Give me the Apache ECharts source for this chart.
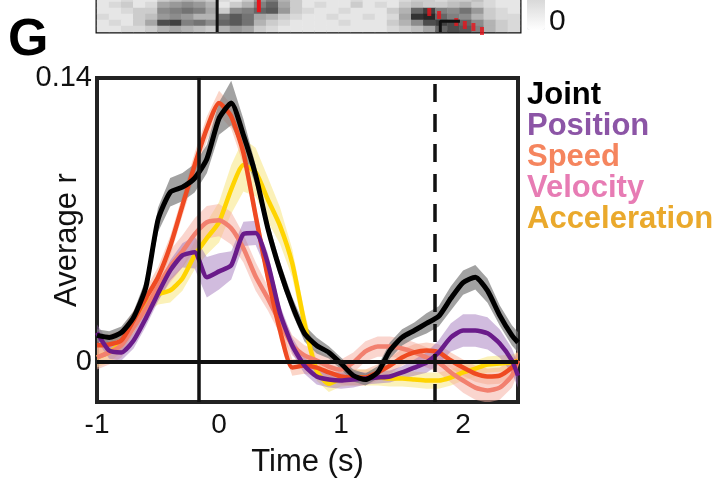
<!DOCTYPE html>
<html>
<head>
<meta charset="utf-8">
<script src="https://cdn.jsdelivr.net/npm/echarts@6/dist/echarts.min.js"></script>
<style>
  html, body { margin: 0; padding: 0; background: #fff; }
  #chart { width: 721px; height: 481px; }
</style>
</head>
<body>
<div id="chart"></div>
<script>
// time axis (s)
const times = [-1.0, -0.9, -0.8, -0.7, -0.6, -0.5, -0.4, -0.3, -0.2, -0.1, 0.0, 0.1, 0.2, 0.3, 0.4, 0.5, 0.6, 0.7,
  0.8, 0.9, 1.0, 1.1, 1.2, 1.3, 1.4, 1.5, 1.6, 1.7, 1.8, 1.9, 2.0, 2.1, 2.2, 2.3, 2.4, 2.45];

// average r per model
const joint = [0.0129, 0.0119, 0.0143, 0.0218, 0.0366, 0.070, 0.0836, 0.0861, 0.0905, 0.100, 0.120, 0.1277, 0.1118, 0.092,
  0.0658, 0.045, 0.0277, 0.0139, 0.0079, 0.0045, -0.001, -0.0069, -0.0089, -0.0054, 0.0054, 0.0119, 0.0153, 0.0188,
  0.0223, 0.0312, 0.039, 0.0416, 0.035, 0.0228, 0.0129, 0.0094];
const position = [0.0143, 0.0054, 0.0045, 0.0104, 0.0213, 0.0336, 0.045, 0.0524, 0.0539, 0.0416, 0.0445, 0.0475, 0.063,
  0.0635, 0.0485, 0.0238, 0.0079, -0.002, -0.0074, -0.0089, -0.0094, -0.0089, -0.0084, -0.0079, -0.0074, -0.0054,
  -0.003, -0.0005, 0.0045, 0.0119, 0.0153, 0.0153, 0.0139, 0.0089, 0.0005, -0.007];
const speed = [0.008, 0.0084, 0.0104, 0.0203, 0.0312, 0.0416, 0.057, 0.077, 0.097, 0.115, 0.1277, 0.121, 0.103, 0.072,
  0.0416, 0.0153, -0.003, -0.002, -0.003, -0.0054, -0.0074, -0.0079, -0.0079, -0.0054, -0.002, 0.002, 0.0045, 0.0054,
  0.0045, 0.0005, -0.003, -0.006, -0.0074, -0.007, -0.003, 0.0005];
const velocity = [0.002, 0.0045, 0.008, 0.0168, 0.0262, 0.0371, 0.047, 0.0544, 0.0628, 0.0688, 0.0698, 0.0658, 0.0559,
  0.042, 0.0312, 0.0193, 0.008, 0.003, 0.0005, -0.0025, -0.004, -0.0005, 0.005, 0.0074, 0.0074, 0.0064, 0.0045, 0.002,
  -0.0005, -0.0054, -0.0094, -0.0129, -0.0143, -0.0129, -0.007, 0.0005];
const acceleration = [0.002, 0.0045, 0.0094, 0.0188, 0.0287, 0.0332, 0.0351, 0.041, 0.0524, 0.0609, 0.0688, 0.085, 0.097,
  0.0935, 0.080, 0.067, 0.0485, 0.019, -0.0045, -0.011, -0.0084, -0.0079, -0.0079, -0.0079, -0.0084, -0.0084, -0.0089,
  -0.0094, -0.0094, -0.0079, -0.0054, -0.0035, -0.0015, -0.001, -0.0005, 0.0005];

// shaded error (half width)
const jointErr = [0.003, 0.003, 0.003, 0.003, 0.004, 0.006, 0.007, 0.007, 0.007, 0.007, 0.008, 0.011, 0.008, 0.005, 0.004,
  0.004, 0.004, 0.004, 0.004, 0.003, 0.003, 0.003, 0.003, 0.003, 0.004, 0.004, 0.004, 0.005, 0.005, 0.006, 0.006, 0.006,
  0.006, 0.005, 0.005, 0.005];
const positionErr = [0.004, 0.004, 0.004, 0.004, 0.004, 0.004, 0.005, 0.006, 0.008, 0.010, 0.009, 0.007, 0.006, 0.006,
  0.005, 0.004, 0.004, 0.004, 0.004, 0.004, 0.004, 0.004, 0.003, 0.003, 0.003, 0.003, 0.004, 0.005, 0.006, 0.007, 0.008,
  0.008, 0.008, 0.007, 0.006, 0.006];
const speedErr = [0.005, 0.005, 0.005, 0.005, 0.005, 0.005, 0.005, 0.005, 0.006, 0.006, 0.006, 0.006, 0.006, 0.005, 0.005,
  0.005, 0.004, 0.004, 0.004, 0.004, 0.004, 0.004, 0.004, 0.004, 0.004, 0.004, 0.004, 0.004, 0.004, 0.004, 0.004, 0.004,
  0.004, 0.004, 0.004, 0.004];
const velocityErr = [0.006, 0.006, 0.006, 0.006, 0.006, 0.007, 0.008, 0.008, 0.008, 0.008, 0.008, 0.008, 0.007, 0.007,
  0.006, 0.006, 0.005, 0.005, 0.005, 0.005, 0.005, 0.005, 0.005, 0.005, 0.005, 0.005, 0.005, 0.005, 0.005, 0.005, 0.006,
  0.006, 0.006, 0.006, 0.006, 0.006];
const accelerationErr = [0.005, 0.005, 0.005, 0.005, 0.005, 0.005, 0.006, 0.006, 0.007, 0.008, 0.010, 0.012, 0.013, 0.012,
  0.011, 0.009, 0.007, 0.006, 0.005, 0.004, 0.004, 0.004, 0.004, 0.004, 0.004, 0.004, 0.004, 0.004, 0.004, 0.004, 0.004,
  0.004, 0.004, 0.004, 0.004, 0.004];

// event markers (s)
const cueTime = -0.165;
const endTime = 1.77;

// raster strip above (gray level 0..1), rows top to bottom
const rasterRows = [
  [0.1, 0.1, 0.15, 0.1, 0.1, 0.2, 0.25, 0.3, 0.25, 0.2, 0.15, 0.1, 0.2, 0.4, 0.5, 0.3, 0.2, 0.1, 0.1, 0.1, 0.1, 0.15, 0.1, 0.1, 0.1, 0.15, 0.2, 0.2, 0.15, 0.2, 0.2, 0.25, 0.15, 0.1, 0.1],
  [0.1, 0.15, 0.2, 0.1, 0.15, 0.35, 0.4, 0.45, 0.4, 0.3, 0.1, 0.2, 0.3, 0.5, 0.6, 0.35, 0.2, 0.1, 0.15, 0.1, 0.1, 0.2, 0.1, 0.15, 0.1, 0.2, 0.25, 0.2, 0.2, 0.25, 0.3, 0.2, 0.15, 0.1, 0.1],
  [0.1, 0.1, 0.15, 0.2, 0.2, 0.45, 0.5, 0.55, 0.5, 0.35, 0.2, 0.45, 0.5, 0.6, 0.65, 0.4, 0.2, 0.15, 0.1, 0.1, 0.15, 0.1, 0.1, 0.1, 0.2, 0.3, 0.6, 0.75, 0.5, 0.45, 0.55, 0.4, 0.2, 0.15, 0.1],
  [0.15, 0.1, 0.1, 0.2, 0.25, 0.4, 0.45, 0.4, 0.3, 0.3, 0.55, 0.65, 0.55, 0.35, 0.3, 0.2, 0.15, 0.1, 0.1, 0.15, 0.1, 0.1, 0.15, 0.1, 0.15, 0.35, 0.8, 0.85, 0.6, 0.5, 0.45, 0.3, 0.2, 0.15, 0.15],
  [0.1, 0.15, 0.1, 0.2, 0.35, 0.7, 0.75, 0.5, 0.55, 0.45, 0.6, 0.65, 0.55, 0.3, 0.2, 0.15, 0.1, 0.1, 0.1, 0.1, 0.15, 0.1, 0.1, 0.1, 0.2, 0.3, 0.45, 0.7, 0.75, 0.7, 0.6, 0.45, 0.3, 0.2, 0.15],
  [0.1, 0.1, 0.15, 0.15, 0.2, 0.3, 0.35, 0.3, 0.25, 0.2, 0.3, 0.4, 0.35, 0.2, 0.15, 0.1, 0.1, 0.1, 0.1, 0.1, 0.1, 0.1, 0.1, 0.1, 0.15, 0.2, 0.25, 0.35, 0.6, 0.7, 0.65, 0.5, 0.3, 0.2, 0.15]
];
const onsetTimes = [1.71, 1.79, 1.93, 2.0, 2.07, 2.14];
const onsetRows = [2.67, 3.17, 4.33, 4.83, 5.17, 5.83];

const chart = echarts.init(document.getElementById("chart"));

const font = "Liberation Sans";
const cols = rasterRows[0].map((v, i) => String(i));
const heat = [];
rasterRows.forEach((row, r) => row.forEach((v, c) => heat.push([c, r, v])));

// shaded band drawn as one polygon through the axis scales
function band(mean, err, color, opacity) {
  return {
    type: "custom", silent: true, clip: true, z: 1,
    data: times.map((t, i) => [t, mean[i] - err[i], mean[i] + err[i]]),
    encode: { x: 0, y: [1, 2] },
    renderItem: function (params, api) {
      if (params.dataIndex !== 0) return;
      const upper = times.map((t, i) => api.coord([t, mean[i] + err[i]]));
      const lower = times.map((t, i) => api.coord([t, mean[i] - err[i]])).reverse();
      return {
        type: "polygon",
        shape: { points: upper.concat(lower) },
        style: { fill: color, opacity: opacity }
      };
    }
  };
}

function curve(name, mean, color, width, z) {
  return {
    name: name, type: "line", data: times.map((t, i) => [t, mean[i]]),
    symbol: "none", smooth: 0.2, z: z,
    lineStyle: { color: color, width: width }, itemStyle: { color: color }
  };
}

const option = {
  animation: false,
  grid: [
    { left: 97, right: 203, top: 78, bottom: 79, outerBoundsMode: "none", show: true, borderColor: "#222", borderWidth: 4 },
    { left: 97, right: 201, top: -4, height: 36, outerBoundsMode: "none", show: true, borderColor: "#111", borderWidth: 3 },
    { left: 97, right: 201, top: -4, height: 36, outerBoundsMode: "none" }
  ],
  xAxis: [
    {
      gridIndex: 0, type: "value", min: -1, max: 2.45, interval: 1,
      axisLine: { show: false }, axisTick: { show: false }, splitLine: { show: false },
      axisLabel: {
        color: "#111", fontFamily: font, fontSize: 28, margin: 9,
        formatter: v => (Number.isInteger(v) ? String(v) : "")
      },
      name: "Time (s)", nameLocation: "middle", nameGap: 45, nameMoveOverlap: false,
      nameTextStyle: { color: "#111", fontFamily: font, fontSize: 31 }
    },
    { gridIndex: 1, type: "category", data: cols, show: false },
    { gridIndex: 2, type: "value", min: -1, max: 2.45, show: false }
  ],
  yAxis: [
    {
      gridIndex: 0, type: "value", min: -0.02, max: 0.14, interval: 0.01,
      axisLine: { show: false }, axisTick: { show: false }, splitLine: { show: false },
      axisLabel: {
        color: "#111", fontFamily: font, fontSize: 29, margin: 5,
        formatter: v => (Math.abs(v) < 1e-9 ? "0" : Math.abs(v - 0.14) < 1e-9 ? "0.14" : "")
      },
      name: "Average r", nameLocation: "middle", nameGap: 14, nameMoveOverlap: false,
      nameTextStyle: { color: "#111", fontFamily: font, fontSize: 31 }
    },
    { gridIndex: 1, type: "category", data: rasterRows.map((r, i) => String(i)), inverse: true, show: false },
    { gridIndex: 2, type: "value", min: 0, max: 6, inverse: true, show: false }
  ],
  visualMap: {
    type: "continuous", min: 0, max: 1, seriesIndex: 0, calculable: false,
    inRange: { color: ["#ffffff", "#000000"] },
    orient: "vertical", left: 527, top: -170, itemWidth: 18, itemHeight: 200, padding: 0,
    text: null, showLabel: false
  },
  legend: {
    orient: "vertical", left: 517, top: 75, itemGap: 0, itemWidth: 0, itemHeight: 29.6,
    icon: "none", selectedMode: false,
    textStyle: { fontFamily: font, fontSize: 31, fontWeight: "bold", lineHeight: 29.6 },
    data: [
      { name: "Joint", textStyle: { color: "#000000" } },
      { name: "Position", textStyle: { color: "#8c55a6" } },
      { name: "Speed", textStyle: { color: "#f5855e" } },
      { name: "Velocity", textStyle: { color: "#e77cb4" } },
      { name: "Acceleration", textStyle: { color: "#eaa92c" } }
    ]
  },
  graphic: [
    { type: "text", left: 8, top: 15, style: { text: "G", font: "bold 52px Liberation Sans", fill: "#000" } },
    { type: "text", left: 549, top: 7, style: { text: "0", font: "30px Liberation Sans", fill: "#111" } }
  ],
  series: [
    { type: "heatmap", xAxisIndex: 1, yAxisIndex: 1, data: heat, silent: true },
    {
      type: "line", xAxisIndex: 2, yAxisIndex: 2, data: [[-0.02, 0], [-0.02, 6]], symbol: "none",
      lineStyle: { color: "#111", width: 3 }, silent: true
    },
    {
      type: "line", xAxisIndex: 2, yAxisIndex: 2, data: [[1.96, 4.2], [1.8, 4.2], [1.8, 6]], symbol: "none",
      lineStyle: { color: "#111", width: 3 }, silent: true
    },
    {
      type: "line", xAxisIndex: 2, yAxisIndex: 2, data: [[0.32, 0.6], [0.32, 2.7]], symbol: "none",
      lineStyle: { color: "#e8141b", width: 4 }, silent: true
    },
    {
      type: "scatter", xAxisIndex: 2, yAxisIndex: 2, symbol: "rect", symbolSize: [4, 8],
      itemStyle: { color: "#e8141b" }, data: onsetTimes.map((t, i) => [t, onsetRows[i]]), silent: true
    },
    band(acceleration, accelerationErr, "#f9e78a", 0.6),
    band(velocity, velocityErr, "#f6ab9e", 0.5),
    band(speed, speedErr, "#f6a184", 0.45),
    band(position, positionErr, "#9a6ab5", 0.45),
    band(joint, jointErr, "#7a7a7a", 0.7),
    curve("Acceleration", acceleration, "#ffd400", 4.5, 2),
    curve("Velocity", velocity, "#f2806f", 4.5, 2),
    curve("Speed", speed, "#ef4a22", 4.5, 2),
    curve("Position", position, "#6a1b8a", 4.5, 2),
    curve("Joint", joint, "#000000", 5, 3),
    {
      type: "line", data: [[0, 0]], symbol: "none", silent: true, z: 10, lineStyle: { opacity: 0 },
      markLine: {
        silent: true, symbol: ["none", "none"], label: { show: false },
        data: [
          { xAxis: cueTime, lineStyle: { color: "#111", width: 3.5, type: "solid" } },
          { xAxis: endTime, lineStyle: { color: "#111", width: 3.5, type: [18, 12] } },
          { yAxis: 0, lineStyle: { color: "#111", width: 4, type: "solid" } }
        ]
      }
    }
  ]
};

chart.setOption(option);

window.addEventListener("resize", function () {
  chart.resize();
});
</script>
</body>
</html>
